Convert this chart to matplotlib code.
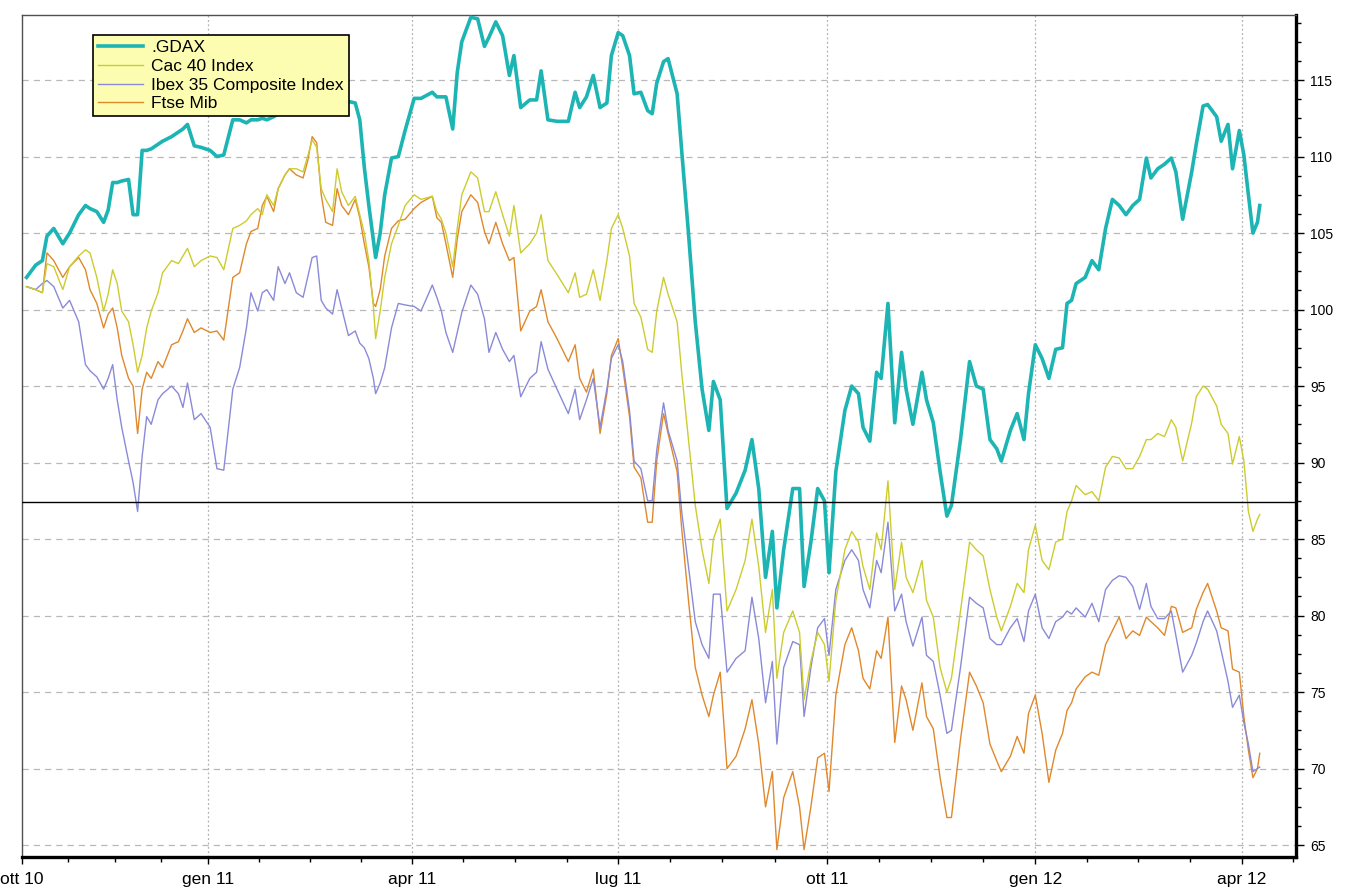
import matplotlib
matplotlib.use("Agg")
import matplotlib.pyplot as plt
import matplotlib.dates as mdates
from matplotlib.ticker import MultipleLocator, FixedLocator
import pandas as pd

# sample dates (roughly every 3-4 days)
dates = [
    "2010-10-13", "2010-10-17", "2010-10-20", "2010-10-22", "2010-10-25", "2010-10-29",
    "2010-11-01", "2010-11-05", "2010-11-08", "2010-11-10", "2010-11-13", "2010-11-16",
    "2010-11-18", "2010-11-20", "2010-11-22", "2010-11-24", "2010-11-27", "2010-11-29",
    "2010-12-01", "2010-12-03", "2010-12-05", "2010-12-07", "2010-12-10", "2010-12-12",
    "2010-12-16", "2010-12-19", "2010-12-21", "2010-12-23", "2010-12-26", "2010-12-29",
    "2011-01-02", "2011-01-05", "2011-01-08",
    "2011-01-12", "2011-01-15", "2011-01-18", "2011-01-20", "2011-01-23", "2011-01-25",
    "2011-01-27", "2011-01-30", "2011-02-01", "2011-02-04", "2011-02-06", "2011-02-09",
    "2011-02-12", "2011-02-14", "2011-02-16", "2011-02-18", "2011-02-20", "2011-02-22",
    "2011-02-25", "2011-02-27", "2011-03-01", "2011-03-04", "2011-03-07", "2011-03-09",
    "2011-03-11", "2011-03-13", "2011-03-15", "2011-03-16", "2011-03-18", "2011-03-20",
    "2011-03-23", "2011-03-26", "2011-03-29", "2011-04-02", "2011-04-05", "2011-04-10",
    "2011-04-12",
    "2011-04-14", "2011-04-16", "2011-04-19", "2011-04-21", "2011-04-23", "2011-04-27",
    "2011-04-30", "2011-05-03", "2011-05-05", "2011-05-08", "2011-05-11", "2011-05-14",
    "2011-05-16", "2011-05-19", "2011-05-23", "2011-05-26", "2011-05-28", "2011-05-31",
    "2011-06-04", "2011-06-09", "2011-06-12", "2011-06-14", "2011-06-17", "2011-06-20",
    "2011-06-23", "2011-06-26", "2011-06-28", "2011-07-01", "2011-07-03", "2011-07-06",
    "2011-07-08", "2011-07-11", "2011-07-14",
    "2011-07-16", "2011-07-18", "2011-07-21", "2011-07-23", "2011-07-27", "2011-07-29",
    "2011-08-01", "2011-08-04", "2011-08-07", "2011-08-10", "2011-08-12", "2011-08-15",
    "2011-08-18", "2011-08-22", "2011-08-26", "2011-08-29", "2011-09-01", "2011-09-04",
    "2011-09-07", "2011-09-09", "2011-09-12", "2011-09-16", "2011-09-19", "2011-09-21",
    "2011-09-24", "2011-09-27", "2011-09-30", "2011-10-02", "2011-10-05", "2011-10-09",
    "2011-10-12", "2011-10-15",
    "2011-10-17", "2011-10-20", "2011-10-23", "2011-10-25", "2011-10-28", "2011-10-31",
    "2011-11-03", "2011-11-05", "2011-11-08", "2011-11-12", "2011-11-14", "2011-11-17",
    "2011-11-20", "2011-11-23", "2011-11-25", "2011-11-29", "2011-12-03", "2011-12-06",
    "2011-12-09", "2011-12-12", "2011-12-15", "2011-12-17", "2011-12-21", "2011-12-24",
    "2011-12-27", "2011-12-29", "2012-01-01", "2012-01-04", "2012-01-07", "2012-01-10",
    "2012-01-13", "2012-01-15",
    "2012-01-17", "2012-01-19", "2012-01-23", "2012-01-26", "2012-01-29", "2012-02-01",
    "2012-02-04", "2012-02-07", "2012-02-10", "2012-02-13", "2012-02-16", "2012-02-19",
    "2012-02-21", "2012-02-24", "2012-02-27", "2012-03-01", "2012-03-03", "2012-03-06",
    "2012-03-10", "2012-03-12", "2012-03-15", "2012-03-17", "2012-03-21", "2012-03-23",
    "2012-03-26", "2012-03-28", "2012-03-31", "2012-04-02", "2012-04-04", "2012-04-06",
    "2012-04-08", "2012-04-09",
]

gdax = [
    102.1, 102.9, 103.2, 104.8, 105.3, 104.3, 105.0, 106.2, 106.8, 106.6, 106.4, 105.7,
    106.5, 108.3, 108.3, 108.4, 108.5, 106.2, 106.2, 110.4, 110.4, 110.5, 110.8, 111.0,
    111.3, 111.6, 111.8, 112.1, 110.7, 110.6, 110.4, 110.0, 110.1,
    112.4, 112.4, 112.2, 112.4, 112.4, 112.5, 112.4, 112.6, 112.8, 113.0, 113.2, 113.3,
    113.5, 113.7, 113.8, 114.0, 114.2, 113.9, 113.6, 113.8, 114.0, 113.6, 113.5, 112.4,
    109.3, 106.8, 104.5, 103.4, 105.0, 107.5, 109.9, 110.0, 111.7, 113.8, 113.8, 114.2,
    113.9,
    113.9, 113.9, 111.8, 115.5, 117.5, 119.1, 119.0, 117.2, 117.8, 118.8, 117.9, 115.3,
    116.6, 113.2, 113.7, 113.7, 115.6, 112.4, 112.3, 112.3, 114.2, 113.2, 113.9, 115.3,
    113.2, 113.5, 116.6, 118.1, 117.9, 116.6, 114.1, 114.2, 113.0,
    112.8, 114.8, 116.2, 116.4, 114.1, 110.4, 105.0, 99.2, 94.8, 92.1, 95.3, 94.1,
    87.0, 88.0, 89.5, 91.5, 88.3, 82.5, 85.5, 80.5, 84.3, 88.3, 88.3, 81.9,
    84.8, 88.3, 87.5, 82.8, 89.4, 93.4, 95.0, 94.5,
    92.3, 91.4, 95.9, 95.5, 100.4, 92.6, 97.2, 94.8, 92.5, 95.9, 94.1, 92.6,
    89.4, 86.5, 87.2, 91.5, 96.6, 95.0, 94.8, 91.5, 90.9, 90.1, 92.1, 93.2,
    91.5, 94.5, 97.7, 96.8, 95.5, 97.4, 97.5, 100.4,
    100.6, 101.7, 102.1, 103.2, 102.6, 105.3, 107.2, 106.8, 106.2, 106.8, 107.2, 109.9,
    108.6, 109.2, 109.5, 109.9, 109.0, 105.9, 109.0, 110.8, 113.3, 113.4, 112.6, 111.0,
    112.1, 109.2, 111.7, 110.1, 107.5, 105.0, 105.7, 106.8,
]

cac40 = [
    101.5, 101.3, 101.1, 103.0, 102.8, 101.3, 102.8, 103.5, 103.9, 103.7, 102.1, 99.9,
    101.0, 102.6, 101.7, 99.9, 99.2, 97.7, 95.9, 97.0, 98.8, 99.9, 101.1, 102.4,
    103.2, 103.0, 103.5, 104.0, 102.8, 103.2, 103.5, 103.4, 102.6,
    105.3, 105.5, 105.8, 106.2, 106.6, 106.2, 107.5, 106.8, 107.9, 108.8, 109.2, 109.2,
    109.0, 110.0, 111.1, 110.6, 107.9, 107.2, 106.4, 109.2, 107.7, 106.8, 107.4, 106.2,
    105.0, 103.2, 100.2, 98.1, 99.9, 102.1, 104.3, 105.5, 106.8, 107.5, 107.2, 107.4,
    106.4,
    105.9, 105.0, 102.8, 105.3, 107.5, 109.0, 108.6, 106.4, 106.4, 107.7, 106.2, 104.8,
    106.8, 103.7, 104.3, 105.0, 106.2, 103.2, 102.3, 101.1, 102.4, 100.8, 101.0, 102.6,
    100.6, 103.2, 105.3, 106.2, 105.3, 103.5, 100.4, 99.5, 97.4,
    97.2, 99.9, 102.1, 101.0, 99.2, 95.9, 91.5, 87.2, 84.3, 82.1, 85.0, 86.3,
    80.3, 81.7, 83.6, 86.3, 83.2, 78.9, 81.7, 75.9, 78.9, 80.3, 78.9, 74.5,
    77.0, 78.9, 78.1, 75.7, 81.0, 84.3, 85.5, 84.8,
    83.2, 81.7, 85.4, 84.3, 88.8, 81.7, 84.8, 82.5, 81.5, 83.6, 81.0, 79.9,
    76.6, 75.0, 75.9, 80.3, 84.8, 84.3, 83.9, 81.7, 79.9, 79.0, 80.6, 82.1,
    81.5, 84.3, 85.9, 83.6, 83.0, 84.8, 85.0, 86.8,
    87.5, 88.5, 87.9, 88.1, 87.5, 89.7, 90.4, 90.3, 89.6, 89.6, 90.4, 91.5,
    91.5, 91.9, 91.7, 92.8, 92.3, 90.1, 92.6, 94.3, 95.0, 94.8, 93.7, 92.5,
    91.9, 89.9, 91.7, 90.1, 86.8, 85.5, 86.3, 86.6,
]

ibex35 = [
    101.5, 101.3, 101.7, 101.9, 101.5, 100.1, 100.6, 99.2, 96.4, 96.0, 95.6, 94.8,
    95.5, 96.4, 94.1, 92.3, 90.1, 88.7, 86.8, 90.4, 93.0, 92.5, 94.1, 94.5,
    95.0, 94.5, 93.6, 95.2, 92.8, 93.2, 92.3, 89.6, 89.5,
    94.8, 96.2, 98.8, 101.1, 99.9, 101.1, 101.3, 100.6, 102.8, 101.7, 102.4, 101.1,
    100.8, 102.1, 103.4, 103.5, 100.6, 100.1, 99.7, 101.3, 100.1, 98.3, 98.6, 97.8,
    97.5, 96.8, 95.5, 94.5, 95.2, 96.2, 98.8, 100.4, 100.3, 100.2, 99.9, 101.6,
    100.8,
    99.9, 98.5, 97.2, 98.5, 99.8, 101.6, 101.0, 99.4, 97.2, 98.5, 97.4, 96.6,
    97.0, 94.3, 95.5, 95.9, 97.9, 96.1, 94.8, 93.2, 94.8, 92.8, 94.1, 95.5,
    92.3, 94.8, 96.8, 97.7, 96.6, 93.4, 90.1, 89.6, 87.5,
    87.5, 90.8, 93.9, 92.1, 90.1, 86.8, 83.2, 79.6, 78.1, 77.2, 81.4, 81.4,
    76.3, 77.2, 77.7, 81.2, 78.5, 74.3, 77.0, 71.6, 76.6, 78.3, 78.1, 73.4,
    76.6, 79.2, 79.8, 77.4, 81.7, 83.6, 84.3, 83.6,
    81.7, 80.5, 83.6, 82.8, 86.1, 80.3, 81.4, 79.6, 78.0, 79.9, 77.4, 77.0,
    74.8, 72.3, 72.5, 76.6, 81.2, 80.8, 80.5, 78.5, 78.1, 78.1, 79.2, 79.8,
    78.3, 80.3, 81.4, 79.2, 78.5, 79.6, 79.9, 80.3,
    80.1, 80.5, 79.9, 80.8, 79.6, 81.7, 82.3, 82.6, 82.5, 81.9, 80.4, 82.1,
    80.6, 79.8, 79.8, 80.3, 78.7, 76.3, 77.4, 78.2, 79.6, 80.3, 79.0, 77.7,
    75.7, 74.0, 74.8, 73.0, 71.6, 69.8, 70.0, 70.1,
]

ftse_mib = [
    101.5, 101.3, 101.1, 103.7, 103.2, 102.1, 102.8, 103.4, 102.6, 101.3, 100.4, 98.8,
    99.7, 100.1, 98.8, 97.0, 95.5, 95.0, 91.9, 94.8, 95.9, 95.5, 96.6, 96.2,
    97.7, 97.9, 98.6, 99.4, 98.5, 98.8, 98.5, 98.6, 98.0,
    102.1, 102.4, 104.3, 105.1, 105.3, 106.8, 107.4, 106.4, 107.9, 108.8, 109.2, 108.8,
    108.6, 109.7, 111.3, 110.9, 107.5, 105.7, 105.5, 107.9, 106.8, 106.2, 107.2, 106.0,
    104.3, 102.8, 100.4, 100.2, 101.3, 103.5, 105.3, 105.8, 105.9, 106.6, 107.0, 107.4,
    106.0,
    105.7, 104.3, 102.1, 104.6, 106.4, 107.5, 107.0, 105.1, 104.3, 105.7, 104.3, 103.2,
    103.4, 98.6, 99.9, 100.2, 101.3, 99.2, 98.1, 96.6, 97.7, 95.5, 94.6, 96.1,
    91.9, 94.5, 97.0, 98.1, 96.2, 93.0, 89.7, 89.0, 86.1,
    86.1, 90.1, 93.2, 91.9, 89.4, 85.7, 81.0, 76.6, 74.8, 73.4, 74.8, 76.3,
    70.0, 70.8, 72.6, 74.5, 71.6, 67.5, 69.8, 64.7, 68.1, 69.8, 67.5, 64.7,
    67.5, 70.7, 71.0, 68.5, 74.8, 78.1, 79.2, 77.7,
    75.9, 75.2, 77.7, 77.2, 79.9, 71.7, 75.4, 74.5, 72.5, 75.6, 73.4, 72.6,
    69.4, 66.8, 66.8, 71.9, 76.3, 75.4, 74.3, 71.6, 70.5, 69.8, 70.8, 72.1,
    71.0, 73.6, 74.8, 72.3, 69.1, 71.2, 72.3, 73.8,
    74.3, 75.2, 76.0, 76.3, 76.1, 78.1, 79.0, 79.9, 78.5, 79.0, 78.7, 79.9,
    79.6, 79.2, 78.7, 80.6, 80.5, 78.9, 79.2, 80.4, 81.5, 82.1, 80.3, 79.2,
    79.0, 76.5, 76.3, 73.4, 71.2, 69.4, 70.0, 71.0,
]

labels = [".GDAX", "Cac 40 Index", "Ibex 35 Composite Index", "Ftse Mib"]
colors = ["#1db4b4", "#cccc30", "#8a8ad8", "#e0882c"]
widths = [2.6, 1.0, 1.0, 1.0]

quarter_ticks = ["2011-01-01", "2011-04-01", "2011-07-01", "2011-10-01", "2012-01-01", "2012-04-01"]
quarter_labels = ["gen 11", "apr 11", "lug 11", "ott 11", "gen 12", "apr 12"]
x_start, x_end = "2010-10-11", "2012-04-25"
ref_level = 87.4

plt.rcParams["font.family"] = ["Liberation Sans", "DejaVu Sans"]

fig = plt.figure(figsize=(13.46, 8.88), dpi=100)
ax = fig.add_axes([22 / 1346, 31 / 888, 1274 / 1346, 842 / 888])

x = pd.to_datetime(dates)
for series, lab, col, lw in zip([gdax, cac40, ibex35, ftse_mib][::-1], labels[::-1],
                                colors[::-1], widths[::-1]):
    ax.plot(x, series, color=col, lw=lw, label=lab, zorder=3)

ax.axhline(ref_level, color="black", lw=1.0, zorder=4)

ax.set_xlim(pd.Timestamp(x_start), pd.Timestamp(x_end))
ax.set_ylim(64.22, 119.25)

# x ticks: quarters, with the first label sitting at the left edge
xmaj = [mdates.date2num(pd.Timestamp(x_start))] + [mdates.date2num(pd.Timestamp(d)) for d in quarter_ticks]
ax.xaxis.set_major_locator(FixedLocator(xmaj))
ax.set_xticklabels(["ott 10"] + quarter_labels)
bounds = xmaj + [mdates.date2num(pd.Timestamp("2012-07-01"))]
xmin = []
for a, b in zip(bounds[:-1], bounds[1:]):
    for k in (1, 2, 3):
        v = a + (b - a) * k / 4
        if v < mdates.date2num(pd.Timestamp(x_end)):
            xmin.append(v)
ax.xaxis.set_minor_locator(FixedLocator(xmin))

ax.yaxis.tick_right()
ax.yaxis.set_major_locator(MultipleLocator(5))
ax.yaxis.set_minor_locator(MultipleLocator(1.25))

ax.tick_params(axis="x", which="major", length=5, width=1, pad=6, labelsize=12.5)
ax.tick_params(axis="x", which="minor", length=3.5, width=1)
ax.tick_params(axis="y", which="major", length=6, width=1, pad=4, labelsize=10)
ax.tick_params(axis="y", which="minor", length=3.5, width=1)

ax.yaxis.grid(True, which="major", color="#b8b8b8", lw=0.9, linestyle=(0, (5, 4)), zorder=1)
for d in quarter_ticks:
    ax.axvline(pd.Timestamp(d), color="#b0b0b0", lw=0.9, linestyle=(0, (1.5, 2)), zorder=1)

for s in ["top", "left"]:
    ax.spines[s].set_color("#505050")
    ax.spines[s].set_linewidth(1.0)
for s in ["bottom", "right"]:
    ax.spines[s].set_color("black")
    ax.spines[s].set_linewidth(2.4)

handles, labs = ax.get_legend_handles_labels()
leg = ax.legend(handles[::-1], labs[::-1], loc="upper left",
                bbox_to_anchor=(71 / 1274, (857 - 35) / 842),
                fontsize=12.5, handlelength=2.6, handletextpad=0.45,
                labelspacing=0.2, borderpad=0.3, borderaxespad=0,
                fancybox=False, framealpha=1, facecolor="#fdfdb2", edgecolor="black")
leg.get_frame().set_linewidth(1.2)
leg.set_zorder(10)

fig.savefig("out.png", dpi=100, facecolor="white")
